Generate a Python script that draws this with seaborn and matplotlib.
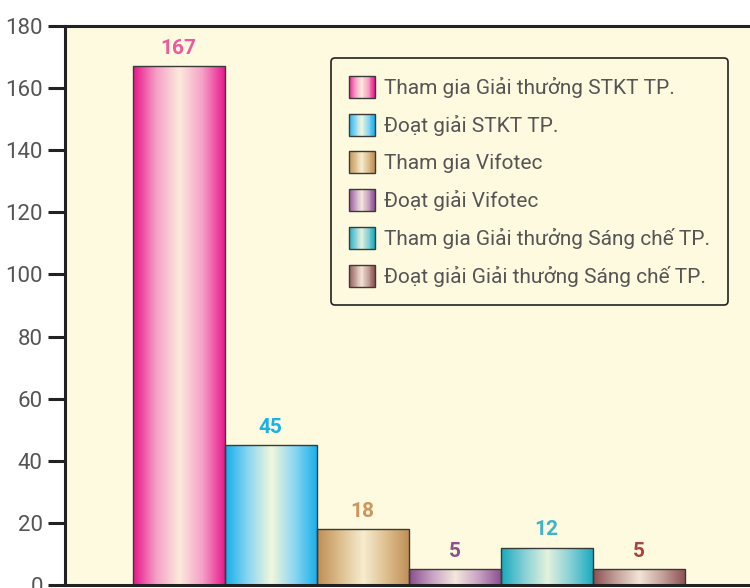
import numpy as np
import pandas as pd
import seaborn as sns
import matplotlib.pyplot as plt
from matplotlib.colors import LinearSegmentedColormap
from matplotlib.patches import Rectangle
from matplotlib.legend_handler import HandlerBase


# Chart data
categories = [
    "Tham gia Giải thưởng STKT TP.",
    "Đoạt giải STKT TP.",
    "Tham gia Vifotec",
    "Đoạt giải Vifotec",
    "Tham gia Giải thưởng Sáng chế TP.",
    "Đoạt giải Giải thưởng Sáng chế TP.",
]
values = [167, 45, 18, 5, 12, 5]
y_ticks = [0, 20, 40, 60, 80, 100, 120, 140, 160, 180]

# Gradient colours: edge colour and centre colour of each bar
edge_colors = ["#E8138A", "#14AEEA", "#BF8E55", "#8A4D8C", "#16AABD", "#8A4F52"]
mid_colors = ["#F5A0C5", "#8CD6F2", "#DDBE8E", "#C9A2C4", "#86D0D6", "#C4A09A"]
center_colors = ["#FCEADC", "#F2F7DC", "#F6EDCF", "#F4E8DC", "#E4F2DC", "#F2E4D6"]
label_colors = ["#EC5B9C", "#17B2EA", "#CC9560", "#8E4F8E", "#3DB3CC", "#A9443F"]

cmaps = [
    LinearSegmentedColormap.from_list(f"g{i}", [e, m, c, m, e])
    for i, (e, m, c) in enumerate(zip(edge_colors, mid_colors, center_colors))
]

df = pd.DataFrame({"category": categories, "value": values})

sns.set_style("white")
plt.rcParams["font.family"] = ["Roboto", "DejaVu Sans"]

fig = plt.figure(figsize=(7.5, 5.88), dpi=100)
ax = fig.add_axes([65 / 750, 3 / 588, 1 - 65 / 750, 559 / 588])
ax.set_facecolor("#FEFADF")

sns.barplot(data=df, x="category", y="value", hue="category",
            palette=edge_colors, width=1.0, edgecolor="#3a3a3a",
            linewidth=1.0, legend=False, ax=ax)

# Paint a horizontal gradient inside every bar
grad = np.linspace(0, 1, 256).reshape(1, -1)
for patch, cmap in zip(ax.patches, cmaps):
    x0, y0 = patch.get_x(), patch.get_y()
    w, h = patch.get_width(), patch.get_height()
    im = ax.imshow(grad, cmap=cmap, aspect="auto", extent=[x0, x0 + w, y0, y0 + h],
                   zorder=patch.get_zorder() - 0.1, interpolation="bicubic")
    im.set_clip_path(patch)
    patch.set_facecolor("none")

# Value labels above the bars
for cont, col in zip(ax.containers, label_colors):
    ax.bar_label(cont, color=col, padding=6, fontsize=15, fontweight="bold")

ax.set_xlim(-1.234, 6.21)
ax.set_ylim(0, 180)
ax.set_yticks(y_ticks)
ax.set_xticks([])
ax.set_xlabel("")
ax.set_ylabel("")
ax.tick_params(axis="y", direction="out", length=12, width=2.2, color="#222222",
               labelsize=16, labelcolor="#555555", pad=4, left=True)
for side in ["left", "top", "bottom"]:
    ax.spines[side].set_visible(True)
    ax.spines[side].set_color("#222222")
    ax.spines[side].set_linewidth(2.2)
ax.spines["right"].set_visible(False)


class GradientHandler(HandlerBase):
    def __init__(self, cmap):
        super().__init__()
        self.cmap = cmap

    def create_artists(self, legend, orig_handle, xdescent, ydescent,
                       width, height, fontsize, trans):
        n = 30
        arts = []
        for k in range(n):
            r = Rectangle((-xdescent + width * k / n, -ydescent), width / n + 0.2, height,
                          facecolor=self.cmap((k + 0.5) / n), edgecolor="none",
                          transform=trans)
            arts.append(r)
        arts.append(Rectangle((-xdescent, -ydescent), width, height, facecolor="none",
                              edgecolor="#3a3a3a", linewidth=1.0, transform=trans))
        return arts


handles = [Rectangle((0, 0), 1, 1) for _ in categories]
hmap = {h: GradientHandler(c) for h, c in zip(handles, cmaps)}
leg = ax.legend(handles, categories, handler_map=hmap, loc="upper left",
                bbox_to_anchor=(331 / 750, 1 - 58 / 588), bbox_transform=fig.transFigure,
                fontsize=15, frameon=True, fancybox=True, handlelength=1.25,
                handleheight=1.25, handletextpad=0.45, labelspacing=0.76,
                borderpad=0.85, borderaxespad=0)
leg.get_frame().set_edgecolor("#222222")
leg.get_frame().set_facecolor("#FEFADF")
leg.get_frame().set_linewidth(1.2)
leg.get_frame().set_alpha(1)
for t in leg.get_texts():
    t.set_color("#555555")

fig.savefig("out.png", dpi=100)
